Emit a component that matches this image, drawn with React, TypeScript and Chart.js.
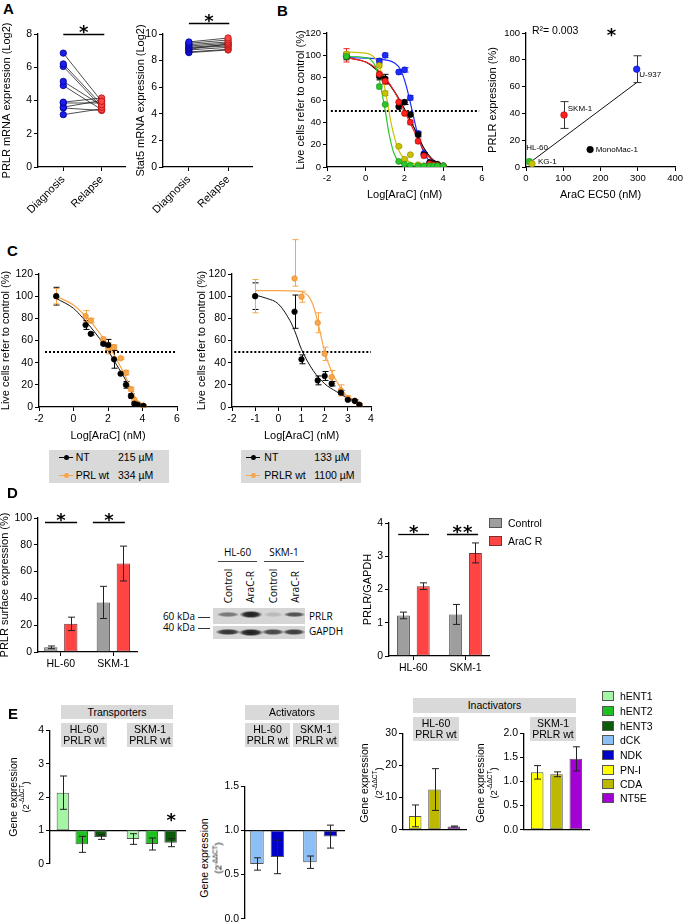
import React, { useEffect, useRef } from 'react';
import { Chart, registerables } from 'chart.js';

Chart.register(...registerables);

const FONT = "'Liberation Sans', Arial, Helvetica, sans-serif";
const BLOT_FONT = "'Open Sans', 'DejaVu Sans', sans-serif";
Chart.defaults.font.family = FONT;
Chart.defaults.color = '#000';

// ---------------- DATA ----------------
// Panel A
const aCategories = ['Diagnosis', 'Relapse'];
const prlrDiagnosis = [6.85, 6.2, 6.05, 5.15, 4.9, 3.9, 3.85, 3.6, 3.55, 3.15];
const prlrRelapse = [3.95, 3.75, 3.6, 3.7, 3.45, 4.15, 3.85, 4.0, 3.4, 3.5];
const stat5Diagnosis = [9.4, 9.3, 9.2, 9.1, 9.0, 8.95, 8.85, 8.8, 8.65, 8.6];
const stat5Relapse = [9.7, 9.55, 9.4, 9.3, 9.2, 9.1, 9.25, 9.0, 8.85, 8.8];

// Panel B (left) - dose response
const bDose = [-1, 0.7, 1.0, 1.7, 2.0, 2.3, 2.7, 3.0, 3.3, 3.5, 3.7, 4.0];
const bU937 = [100, 95, 100, 85, 87, 62, 30, 12, 4, 3, 2, 1];
const bU937Err = [2, 2, 2, 2, 2, 2, 2, 1, 1, 0, 0, 0];
const bMonoMac = [99, 81, 79, 54, 58, 47, 29, 11, 4, 3, 2.5, 1];
const bMonoMacErr = [3, 3, 4, 2, 2, 2, 2, 2, 1, 1, 1, 0];
const bSKM1 = [100, 83, 77, 58, 48, 40, 23, 10, 3, 2, 1.5, 1];
const bSKM1Err = [6, 2, 3, 2, 2, 2, 2, 1, 1, 0, 0, 0];
const bKG1 = [101, 91, 66, 18.5, 7, 11, 2, 1, 1, 1, 1, 1];
const bKG1Err = [2, 2, 2, 1, 1, 1, 0, 0, 0, 0, 0, 0];
const bHL60 = [99, 72, 56, 5, 2.5, 1.5, 1, 1, 1, 1, 1, 1];
const bHL60Err = [2, 2, 1, 1, 0, 0, 0, 0, 0, 0, 0, 0];
// fitted curves
const u937FitX = [-1, 0, 0.5, 1, 1.5, 1.8, 2.1, 2.4, 2.7, 3.0, 3.3, 3.6, 4.0];
const u937FitY = [98, 97.5, 97, 96, 93, 87, 72, 50, 28, 13, 5, 2, 1];
const monoFitX = [-1, 0, 0.5, 1, 1.5, 2, 2.5, 3, 3.5, 4];
const monoFitY = [98, 94, 88, 79, 67, 52, 35, 17, 6, 2];
const skmFitX = [-1, 0, 0.5, 1, 1.5, 2, 2.5, 3, 3.5, 4];
const skmFitY = [98, 94, 89, 80, 67, 50, 32, 15, 5, 1.5];
const kgFitX = [-1, 0, 0.5, 0.75, 1.0, 1.35, 1.7, 2.05, 2.5, 3, 4];
const kgFitY = [103, 102, 97, 88, 69, 36, 15, 6.5, 3, 1.5, 1];
const hlFitX = [-1, 0, 0.5, 0.75, 1.0, 1.2, 1.45, 1.7, 2.0, 2.5, 3, 4];
const hlFitY = [99, 98, 90, 74, 51, 30, 12.5, 5, 2, 1, 0.5, 0.5];

// Panel B (right) - EC50 vs PRLR
const cellLines = ['U-937', 'SKM-1', 'MonoMac-1', 'HL-60', 'KG-1'];
const ec50 = [297, 102, 172, 9, 16];
const prlrExpr = [73, 38.8, 13, 4, 2.4];
const prlrExprErr = [10, 10, 0, 0, 0];
const fitEc50 = [9, 297];
const fitPrlr = [3, 63];

// Panel C (left)
const cDoseL = [-1, 0.7, 1.0, 1.73, 2.02, 2.35, 2.73, 3.04, 3.33, 3.53, 3.72, 4.05];
const ntLeft = [100, 74, 66, 57, 56, 43, 30, 20, 10, 3, 2, 1];
const ntLeftErr = [8, 4, 1, 1, 5, 8, 1, 3, 2, 1, 1, 1];
const prlLeft = [100, 82, 78, 61, 53, 54, 44, 31, 16, 6, 3, 1];
const prlLeftErr = [7, 5, 2, 2, 5, 2, 1, 2, 2, 2, 1, 1];
const ntLeftFitX = [-1, 0, 0.5, 1, 1.5, 2, 2.5, 3, 3.5, 3.8, 4.05];
const ntLeftFitY = [98, 89, 81, 72, 62, 51, 38, 25, 9, 2, 0];
const prlLeftFitX = [-1, 0, 0.5, 1, 1.5, 2, 2.5, 3, 3.5, 3.8, 4.05];
const prlLeftFitY = [100, 92, 85, 77, 67, 56, 43, 28, 11, 3, 0.5];

// Panel C (right)
const cDoseR = [-1, 0.7, 1.0, 1.7, 2.0, 2.3, 2.7, 3.0, 3.3, 3.5];
const ntRight = [100, 86, 43, 24, 28, 21, 13, 6.5, 5.5, 2];
const ntRightErr = [12, 15, 4, 4, 4, 2, 2, 1, 1, 1];
const prlrRight = [100, 116, 99.5, 76, 48, 27, 15, 8, 5.5, 2];
const prlrRightErr = [15, [7, 35], 5, 9, 6, 6, 5, 2, 1, 1];
const ntRightFitX = [-1, -0.5, 0, 0.5, 0.7, 1.0, 1.5, 2.0, 2.5, 3.0, 3.5];
const ntRightFitY = [101, 98, 93, 78, 69, 52, 33, 21, 14, 8, 3];
const prlrRightFitX = [-1, 0, 0.5, 1.0, 1.3, 1.5, 1.7, 2.0, 2.3, 2.7, 3.0, 3.5];
const prlrRightFitY = [105, 105, 104.8, 104, 100, 92, 77, 50, 32, 17, 9, 3];

// Panel D
const dCategories = ['HL-60', 'SKM-1'];
const surfaceControl = [3.5, 37];
const surfaceControlErr = [1, 12];
const surfaceAraC = [21, 66];
const surfaceAraCErr = [5, 13];
const ratioControl = [1.22, 1.25];
const ratioControlErr = [0.1, 0.3];
const ratioAraC = [2.1, 3.1];
const ratioAraCErr = [0.1, 0.3];

// Panel E
const hENT1 = [2.13, 0.74];
const hENT1Err = [0.5, 0.16];
const hENT2 = [0.58, 0.59];
const hENT2Err = [0.24, 0.18];
const hENT3 = [0.8, 0.63];
const hENT3Err = [0.07, 0.12];
const dCK = [0.62, 0.64];
const dCKErr = [0.07, 0.07];
const NDK = [0.7, 0.93];
const NDKErr = [0.19, 0.13];
const inactivators = ['PN-I', 'CDA', 'NT5E'];
const hl60Inact = [4.3, 12.5, 1.0];
const hl60InactErr = [3.4, 6.5, 0.15];
const skm1Inact = [1.19, 1.15, 1.47];
const skm1InactErr = [0.14, 0.05, 0.25];
const legendNames = ['hENT1', 'hENT2', 'hENT3', 'dCK', 'NDK', 'PN-I', 'CDA', 'NT5E'];
const legendColors = ['#a6f5a6', '#1fc01f', '#0a5c0a', '#8cbff5', '#0000c8', '#ffff00', '#bdb800', '#a300d6'];

// colors
const A_BLUE = '#1c1cf0', A_BLUE_BD = '#000090', A_RED = '#ff4545', A_RED_BD = '#b01010';
const C_BLUE = '#1f2bff', C_RED = '#ff2020', C_BLACK = '#000000', C_YELLOW = '#c8c200', C_GREEN = '#2cc52c';
const ORANGE = '#f9a54a';
const D_GRAY = '#9e9e9e', D_RED = '#ff4444';

// ---------------- helpers ----------------
type Box = { left: number; top: number; width: number; height: number };

function frame(x0: number, y0: number, x1: number, y1: number, l: number, t: number, r: number, b: number, padBottom = false) {
  return {
    box: { left: x0 - l, top: y0 - t, width: x1 - x0 + l + r, height: y1 - y0 + t + b },
    pad: { top: t, right: r, left: 0, bottom: padBottom ? b : 0 },
  };
}

function yScale(min: number, max: number, step: number, width: number, title?: string, fs = 10.5, fmt?: (v: number) => string) {
  const ticks: any = { stepSize: step, font: { family: FONT, size: fs }, color: '#000', padding: 2 };
  if (fmt) ticks.callback = (v: any) => fmt(Number(v));
  return {
    type: 'linear', min, max, position: 'left',
    ticks,
    grid: { drawOnChartArea: false, drawTicks: true, tickLength: 4, color: '#000', lineWidth: 1 },
    border: { display: true, color: '#000', width: 1.3 },
    title: title
      ? { display: true, text: title, font: { family: FONT, size: 11 }, color: '#000', padding: { top: 0, bottom: 0 } }
      : { display: false },
    afterFit: (s: any) => { s.width = width; },
  };
}

function xScale(min: number, max: number, tickVals: number[], height: number, o: any = {}) {
  return {
    type: 'linear', min, max, offset: false, position: o.position ?? 'bottom',
    afterBuildTicks: (s: any) => { s.ticks = tickVals.map((v) => ({ value: v })); },
    ticks: {
      autoSkip: false, display: !o.hideLabels,
      minRotation: o.rot ?? 0, maxRotation: o.rot ?? 0,
      font: { family: FONT, size: o.fs ?? 10.5 }, color: '#000', padding: 2,
      callback: (v: any) => (o.labels ? o.labels[tickVals.indexOf(Number(v))] : String(v)),
    },
    grid: { drawOnChartArea: false, drawTicks: o.drawTicks ?? true, tickLength: 4, color: '#000', lineWidth: 1, offset: false },
    border: { display: true, color: '#000', width: 1.3 },
    title: o.title
      ? { display: true, text: o.title, font: { family: FONT, size: 11 }, color: '#000', padding: { top: 0, bottom: 0 } }
      : { display: false },
    afterFit: o.position && typeof o.position === 'object' ? undefined : (s: any) => { s.height = height; },
  };
}

function common(pad: any) {
  return {
    responsive: false, animation: false, events: [],
    layout: { padding: pad },
    plugins: { legend: { display: false }, tooltip: { enabled: false } },
  };
}

function drawErrors(chart: any, onTop: boolean) {
  const ctx = chart.ctx;
  const ys = chart.scales.y;
  chart.data.datasets.forEach((ds: any, i: number) => {
    if (!ds.errors || !!ds.errorsOnTop !== onTop) return;
    const meta = chart.getDatasetMeta(i);
    ctx.save();
    ctx.strokeStyle = ds.errorColor || '#000';
    ctx.lineWidth = ds.errorWidth || 1;
    meta.data.forEach((el: any, j: number) => {
      const e = ds.errors[j];
      if (e == null) return;
      const lo = Array.isArray(e) ? e[0] : e;
      const hi = Array.isArray(e) ? e[1] : e;
      if (!lo && !hi) return;
      const raw = ds.data[j];
      let v = typeof raw === 'number' ? raw : raw.y;
      if (Array.isArray(v)) v = v[1];
      const x = Math.round(el.x) + 0.5;
      const cap = ds.errorCap ?? 3;
      const yLo = ys.getPixelForValue(v - lo);
      const yHi = ys.getPixelForValue(v + hi);
      ctx.beginPath();
      ctx.moveTo(x, yLo);
      ctx.lineTo(x, yHi);
      if (lo) { ctx.moveTo(x - cap, yLo); ctx.lineTo(x + cap, yLo); }
      if (hi) { ctx.moveTo(x - cap, yHi); ctx.lineTo(x + cap, yHi); }
      ctx.stroke();
    });
    ctx.restore();
  });
}

const STAR = 18;
function drawStars(ctx: any, cx: number, cy: number, n: number) {
  ctx.save();
  ctx.fillStyle = '#000';
  ctx.font = `bold ${STAR}px 'DejaVu Sans'`;
  ctx.textAlign = 'center';
  ctx.textBaseline = 'alphabetic';
  const gap = 10.5;
  for (let k = 0; k < n; k++) {
    const x = cx + (k - (n - 1) / 2) * gap;
    ctx.fillText('*', x, cy + STAR * 0.56);
  }
  ctx.restore();
}

type Extras = {
  hlines?: { y: number; x1: number; x2: number }[];
  sig?: { x1: number; x2: number; y: number; n: number }[];
  stars?: { x: number; y: number; n: number }[];
  texts?: { x: number; y: number; text: string; size?: number; align?: string }[];
};

function makeExtras(ex: Extras) {
  return {
    id: 'extras',
    beforeDatasetsDraw(chart: any) {
      const { ctx } = chart;
      const xs = chart.scales.x, ys = chart.scales.y;
      (ex.hlines || []).forEach((h) => {
        ctx.save();
        ctx.beginPath();
        ctx.setLineDash([2, 2]);
        ctx.lineWidth = 2;
        ctx.strokeStyle = '#000';
        const py = Math.round(ys.getPixelForValue(h.y));
        ctx.moveTo(xs.getPixelForValue(h.x1), py);
        ctx.lineTo(xs.getPixelForValue(h.x2), py);
        ctx.stroke();
        ctx.restore();
      });
      drawErrors(chart, false);
    },
    afterDatasetsDraw(chart: any) {
      const { ctx } = chart;
      const xs = chart.scales.x, ys = chart.scales.y;
      drawErrors(chart, true);
      (ex.sig || []).forEach((s) => {
        const px1 = xs.getPixelForValue(s.x1), px2 = xs.getPixelForValue(s.x2);
        const py = Math.round(ys.getPixelForValue(s.y)) + 0.5;
        ctx.save();
        ctx.beginPath();
        ctx.strokeStyle = '#000';
        ctx.lineWidth = 1.3;
        ctx.moveTo(px1, py);
        ctx.lineTo(px2, py);
        ctx.stroke();
        ctx.restore();
        drawStars(ctx, (px1 + px2) / 2, py - 6.5, s.n);
      });
      (ex.stars || []).forEach((s) => drawStars(ctx, xs.getPixelForValue(s.x), ys.getPixelForValue(s.y), s.n));
      (ex.texts || []).forEach((t) => {
        ctx.save();
        ctx.fillStyle = '#000';
        ctx.font = `${t.size ?? 8}px ${FONT}`;
        ctx.textAlign = (t.align as any) || 'left';
        ctx.textBaseline = 'middle';
        ctx.fillText(t.text, xs.getPixelForValue(t.x), ys.getPixelForValue(t.y));
        ctx.restore();
      });
    },
  };
}

function pts(xs: number[], ys: number[], errs: any[] | null, color: string, border: string, r = 3) {
  return {
    data: xs.map((x, i) => ({ x, y: ys[i] })),
    showLine: false,
    pointRadius: r,
    pointBackgroundColor: color,
    pointBorderColor: border,
    pointBorderWidth: 0.6,
    borderColor: color,
    errors: errs,
    errorColor: color,
    errorCap: 3,
  };
}

function curve(xs: number[], ys: number[], color: string, w = 1.2) {
  return {
    data: xs.map((x, i) => ({ x, y: ys[i] })),
    pointRadius: 0,
    borderColor: color,
    borderWidth: w,
    cubicInterpolationMode: 'monotone',
    fill: false,
  };
}

function bars(vals: number[], errs: number[], color: string, border: string, cp: number, bp: number, base?: number) {
  return {
    type: 'bar',
    data: vals.map((v, i) => ({ x: i, y: base != null ? [base, v] : v })),
    backgroundColor: color,
    borderColor: border,
    borderWidth: 1,
    borderSkipped: false,
    categoryPercentage: cp,
    barPercentage: bp,
    errors: errs,
    errorColor: '#222',
    errorCap: 3.5,
    errorsOnTop: true,
  };
}

// ---------------- chart specs ----------------
type Spec = { box: Box; make: () => any };

function pairedSpec(diag: number[], rel: number[], f: any, ymax: number, title: string, sigY: number, sigX2: number): Spec {
  return {
    box: f.box,
    make: () => ({
      type: 'line',
      data: {
        datasets: diag.map((d, i) => ({
          data: [{ x: 0, y: d }, { x: 1, y: rel[i] }],
          borderColor: '#222', borderWidth: 0.8,
          pointRadius: 3.2, pointBorderWidth: 0.8,
          pointBackgroundColor: [A_BLUE, A_RED],
          pointBorderColor: [A_BLUE_BD, A_RED_BD],
        })),
      },
      options: {
        ...common(f.pad),
        scales: {
          x: xScale(-0.66, 1.61, [0, 1], 55, { labels: aCategories, rot: 45, fs: 11 }),
          y: yScale(0, ymax, 2, f.box ? f.l : 0, title),
        },
      },
      plugins: [makeExtras({ sig: [{ x1: 0, x2: sigX2, y: sigY, n: 1 }] })],
    }),
  };
}

const fA1 = { ...frame(38, 34, 125, 167, 38, 14, 6, 55), l: 38 };
const fA2 = { ...frame(163, 34, 252, 167, 29, 29, 6, 55), l: 29 };
const fB1 = frame(327, 33, 482, 167, 33, 12, 10, 35);
const fB2 = frame(526, 33, 676, 167, 40, 12, 9, 35);
const fC1 = frame(39, 274, 177, 407, 40, 10, 10, 36);
const fC2 = frame(232, 274, 371, 407, 37, 40, 8, 36);
const fD1 = frame(38, 518, 137, 652, 40, 14, 6, 20);
const fD2 = frame(389, 523, 489, 656, 28, 14, 4, 22);
const fE1 = frame(50, 730, 185, 864, 20, 8, 4, 8, true);
const fE2 = frame(245, 786, 344, 920, 23, 8, 4, 7, true);
const fE3 = frame(403, 733, 466, 831, 20, 8, 4, 7);
const fE4 = frame(524, 733, 589, 831, 22, 8, 4, 7);

const specs: Spec[] = [
  pairedSpec(prlrDiagnosis, prlrRelapse, fA1, 8, 'PRLR mRNA expression (Log2)', 8, 1.07),
  pairedSpec(stat5Diagnosis, stat5Relapse, fA2, 10, 'Stat5 mRNA expression (Log2)', 10.85, 1.03),
  {
    box: fB1.box,
    make: () => ({
      type: 'line',
      data: {
        datasets: [
          pts(bDose, bHL60, bHL60Err, C_GREEN, '#178a17'),
          pts(bDose, bKG1, bKG1Err, C_YELLOW, '#8d8800'),
          pts(bDose, bSKM1, bSKM1Err, C_RED, '#a00000'),
          pts(bDose, bMonoMac, bMonoMacErr, C_BLACK, '#000'),
          pts(bDose, bU937, bU937Err, C_BLUE, '#0010a0'),
          curve(hlFitX, hlFitY, C_GREEN),
          curve(kgFitX, kgFitY, C_YELLOW),
          curve(skmFitX, skmFitY, C_RED),
          curve(monoFitX, monoFitY, C_BLACK),
          curve(u937FitX, u937FitY, C_BLUE),
        ],
      },
      options: {
        ...common(fB1.pad),
        scales: {
          x: xScale(-2, 6, [-2, 0, 2, 4, 6], 35, { title: 'Log[AraC] (nM)', fs: 9.5 }),
          y: yScale(0, 120, 20, 33, 'Live cells refer to control (%)', 9.5),
        },
      },
      plugins: [makeExtras({ hlines: [{ y: 50, x1: -1.8, x2: 5.85 }] })],
    }),
  },
  {
    box: fB2.box,
    make: () => ({
      type: 'line',
      data: {
        datasets: [
          {
            data: ec50.map((x, i) => ({ x, y: prlrExpr[i] })),
            showLine: false, pointRadius: 3.3, pointBorderWidth: 0.6,
            pointBackgroundColor: [C_BLUE, C_RED, C_BLACK, C_GREEN, C_YELLOW],
            pointBorderColor: ['#0010a0', '#a00000', '#000', '#178a17', '#8d8800'],
            errors: prlrExprErr, errorColor: '#333', errorCap: 4,
          },
          {
            data: fitEc50.map((x, i) => ({ x, y: fitPrlr[i] })),
            pointRadius: 0, borderColor: '#111', borderWidth: 1,
          },
        ],
      },
      options: {
        ...common(fB2.pad),
        scales: {
          x: xScale(0, 400, [0, 100, 200, 300, 400], 35, { title: 'AraC EC50 (nM)', fs: 9.5 }),
          y: yScale(0, 100, 20, 40, 'PRLR expression (%)', 9.5),
        },
      },
      plugins: [makeExtras({
        stars: [{ x: 229.5, y: 101.7, n: 1 }],
        texts: [
          { x: 16, y: 101.5, text: 'R²= 0.003', size: 10.5 },
          { x: 304, y: 68.9, text: cellLines[0] },
          { x: 112, y: 43.5, text: cellLines[1] },
          { x: 187, y: 13, text: cellLines[2] },
          { x: 0.5, y: 14.4, text: cellLines[3] },
          { x: 32, y: 4, text: cellLines[4] },
        ],
      })],
    }),
  },
  {
    box: fC1.box,
    make: () => ({
      type: 'line',
      data: {
        datasets: [
          pts(cDoseL, ntLeft, ntLeftErr, C_BLACK, '#000', 2.8),
          pts(cDoseL, prlLeft, prlLeftErr, ORANGE, '#e08a2a', 2.8),
          curve(ntLeftFitX, ntLeftFitY, '#111', 1),
          curve(prlLeftFitX, prlLeftFitY, ORANGE, 1.2),
        ],
      },
      options: {
        ...common(fC1.pad),
        scales: {
          x: xScale(-2, 6, [-2, 0, 2, 4, 6], 36, { title: 'Log[AraC] (nM)' }),
          y: yScale(0, 120, 20, 40, 'Live cells refer to control (%)'),
        },
      },
      plugins: [makeExtras({ hlines: [{ y: 50, x1: -1.65, x2: 6 }] })],
    }),
  },
  {
    box: fC2.box,
    make: () => ({
      type: 'line',
      data: {
        datasets: [
          pts(cDoseR, ntRight, ntRightErr, C_BLACK, '#000', 2.8),
          pts(cDoseR, prlrRight, prlrRightErr, ORANGE, '#e08a2a', 2.8),
          curve(ntRightFitX, ntRightFitY, '#111', 1),
          curve(prlrRightFitX, prlrRightFitY, ORANGE, 1.2),
        ],
      },
      options: {
        ...common(fC2.pad),
        scales: {
          x: xScale(-2, 4, [-2, -1, 0, 1, 2, 3, 4], 36, { title: 'Log[AraC] (nM)' }),
          y: yScale(0, 120, 20, 37, 'Live cells refer to control (%)'),
        },
      },
      plugins: [makeExtras({ hlines: [{ y: 50, x1: -1.9, x2: 4 }] })],
    }),
  },
  {
    box: fD1.box,
    make: () => ({
      type: 'bar',
      data: {
        datasets: [
          bars(surfaceControl, surfaceControlErr, D_GRAY, '#555', 0.762, 0.665),
          bars(surfaceAraC, surfaceAraCErr, D_RED, '#7a3030', 0.762, 0.665),
        ],
      },
      options: {
        ...common(fD1.pad),
        scales: {
          x: xScale(-0.434, 1.451, [0, 1], 20, { labels: dCategories }),
          y: yScale(0, 100, 20, 40, 'PRLR surface expression (%)'),
        },
      },
      plugins: [makeExtras({ sig: [{ x1: -0.3, x2: 0.31, y: 97, n: 1 }, { x1: 0.61, x2: 1.22, y: 97, n: 1 }] })],
    }),
  },
  {
    box: fD2.box,
    make: () => ({
      type: 'bar',
      data: {
        datasets: [
          bars(ratioControl, ratioControlErr, D_GRAY, '#555', 0.757, 0.658),
          bars(ratioAraC, ratioAraCErr, D_RED, '#7a3030', 0.757, 0.658),
        ],
      },
      options: {
        ...common(fD2.pad),
        scales: {
          x: xScale(-0.466, 1.45, [0, 1], 22, { labels: dCategories }),
          y: yScale(0, 4, 1, 28, 'PRLR/GAPDH'),
        },
      },
      plugins: [makeExtras({ sig: [{ x1: -0.29, x2: 0.3, y: 3.67, n: 1 }, { x1: 0.645, x2: 1.24, y: 3.67, n: 2 }] })],
    }),
  },
  {
    box: fE1.box,
    make: () => ({
      type: 'bar',
      data: {
        datasets: [
          bars(hENT1, hENT1Err, legendColors[0], '#555', 0.806, 0.665, 1),
          bars(hENT2, hENT2Err, legendColors[1], '#555', 0.806, 0.665, 1),
          bars(hENT3, hENT3Err, legendColors[2], '#555', 0.806, 0.665, 1),
        ],
      },
      options: {
        ...common(fE1.pad),
        scales: {
          x: xScale(-0.453, 1.474, [0, 1], 0, { position: { y: 1 }, hideLabels: true, drawTicks: false }),
          y: yScale(0, 4, 1, 20),
        },
      },
      plugins: [makeExtras({ stars: [{ x: 1.276, y: 1.43, n: 1 }] })],
    }),
  },
  {
    box: fE2.box,
    make: () => ({
      type: 'bar',
      data: {
        datasets: [
          bars(dCK, dCKErr, legendColors[3], '#555', 0.774, 0.66, 1),
          bars(NDK, NDKErr, legendColors[4], '#555', 0.774, 0.66, 1),
        ],
      },
      options: {
        ...common(fE2.pad),
        scales: {
          x: xScale(-0.419, 1.449, [0, 1], 0, { position: { y: 1 }, hideLabels: true, drawTicks: false }),
          y: yScale(0, 1.5, 0.5, 23, undefined, 10.5, (v) => v.toFixed(1)),
        },
      },
      plugins: [makeExtras({})],
    }),
  },
  {
    box: fE3.box,
    make: () => ({
      type: 'bar',
      data: {
        datasets: inactivators.map((_, k) => bars([hl60Inact[k]], [hl60InactErr[k]], legendColors[5 + k], '#555', 0.92, 0.65)),
      },
      options: {
        ...common(fE3.pad),
        scales: {
          x: xScale(-1, 1, [0], 7, { hideLabels: true, drawTicks: false }),
          y: yScale(0, 30, 10, 20),
        },
      },
      plugins: [makeExtras({})],
    }),
  },
  {
    box: fE4.box,
    make: () => ({
      type: 'bar',
      data: {
        datasets: inactivators.map((_, k) => bars([skm1Inact[k]], [skm1InactErr[k]], legendColors[5 + k], '#555', 0.89, 0.65)),
      },
      options: {
        ...common(fE4.pad),
        scales: {
          x: xScale(-1, 1, [0], 7, { hideLabels: true, drawTicks: false }),
          y: yScale(0, 2, 0.5, 22, undefined, 10.5, (v) => v.toFixed(1)),
        },
      },
      plugins: [makeExtras({})],
    }),
  },
];

// ---------------- components ----------------
function ChartCanvas({ spec }: { spec: Spec }) {
  const ref = useRef<HTMLCanvasElement | null>(null);
  useEffect(() => {
    if (!ref.current) return;
    const chart = new Chart(ref.current, spec.make());
    return () => chart.destroy();
  }, [spec]);
  const b = spec.box;
  return (
    <canvas
      ref={ref}
      width={b.width}
      height={b.height}
      style={{ position: 'absolute', left: b.left, top: b.top, width: b.width, height: b.height }}
    />
  );
}

function T({ x, y, children, size = 10.5, align = 'left', bold = false, family = FONT }: any) {
  const tx = align === 'center' ? '-50%' : align === 'right' ? '-100%' : '0';
  return (
    <div style={{ position: 'absolute', left: x, top: y, transform: `translate(${tx}, -50%)`, fontSize: size, fontFamily: family, fontWeight: bold ? 700 : 400, whiteSpace: 'nowrap', lineHeight: 1.15, color: '#000' }}>
      {children}
    </div>
  );
}

function VT({ x, y, children, size = 10.5, family = FONT }: any) {
  return (
    <div style={{ position: 'absolute', left: x, top: y, transform: 'translate(-50%, -50%) rotate(-90deg)', fontSize: size, fontFamily: family, whiteSpace: 'nowrap', lineHeight: 1.15 }}>
      {children}
    </div>
  );
}

function Letter({ x, y, c }: any) {
  return <div style={{ position: 'absolute', left: x, top: y, fontSize: 15, fontWeight: 700, fontFamily: FONT, lineHeight: 1 }}>{c}</div>;
}

function GBox({ x, y, w, h, lines }: any) {
  return (
    <div style={{ position: 'absolute', left: x, top: y, width: w, height: h, background: '#d9d9d9', display: 'flex', flexDirection: 'column', alignItems: 'center', justifyContent: 'center', fontSize: 10.5, fontFamily: FONT, lineHeight: '11px', whiteSpace: 'nowrap' }}>
      {lines.map((l: string, i: number) => <div key={i}>{l}</div>)}
    </div>
  );
}

function Marker({ x, y, color }: any) {
  return (
    <>
      <div style={{ position: 'absolute', left: x, top: y - 0.5, width: 14, height: 1, background: color }} />
      <div style={{ position: 'absolute', left: x + 5, top: y - 2.5, width: 5, height: 5, borderRadius: 3, background: color }} />
    </>
  );
}

function GeneTitle({ x1, x2, y }: any) {
  return (
    <>
      <VT x={x1} y={y} size={10.5}>Gene expression</VT>
      <VT x={x2} y={y} size={9.5}>(2<span style={{ fontSize: 6.5, verticalAlign: 'super' }}>-ΔΔCT</span>)</VT>
    </>
  );
}

function Band({ x, y, w, h, o }: any) {
  return (
    <div style={{ position: 'absolute', left: x, top: y, width: w, height: h, opacity: o, background: 'radial-gradient(ellipse at center, #111 0%, #2a2a2a 45%, rgba(60,60,60,0) 75%)' }} />
  );
}

export default function App() {
  return (
    <div style={{ position: 'absolute', left: 0, top: 0, width: 685, height: 924, overflow: 'hidden', background: '#fff', fontFamily: FONT, color: '#000' }}>
      {specs.map((s, i) => <ChartCanvas key={i} spec={s} />)}

      <Letter x={3} y={1} c="A" />
      <Letter x={277} y={3} c="B" />
      <Letter x={7} y={243} c="C" />
      <Letter x={7} y={485} c="D" />
      <Letter x={8} y={706} c="E" />

      {/* C legends */}
      <div style={{ position: 'absolute', left: 49, top: 450, width: 120, height: 33, background: '#d9d9d9' }} />
      <Marker x={59} y={457} color="#000" />
      <T x={75.7} y={457}>NT</T>
      <T x={118} y={457}>215 µM</T>
      <Marker x={59} y={475} color={ORANGE} />
      <T x={75.7} y={475}>PRL wt</T>
      <T x={118} y={475}>334 µM</T>

      <div style={{ position: 'absolute', left: 241, top: 450, width: 120, height: 33, background: '#d9d9d9' }} />
      <Marker x={246} y={457} color="#000" />
      <T x={264.3} y={457}>NT</T>
      <T x={314.3} y={457}>133 µM</T>
      <Marker x={246} y={475} color={ORANGE} />
      <T x={264.3} y={475}>PRLR wt</T>
      <T x={314.3} y={475}>1100 µM</T>

      {/* Western blot */}
      <T x={237.5} y={553} align="center" size={10} family={BLOT_FONT}>HL-60</T>
      <div style={{ position: 'absolute', left: 218, top: 561, width: 39, height: 1, background: '#444' }} />
      <T x={284} y={553} align="center" size={10} family={BLOT_FONT}>SKM-1</T>
      <div style={{ position: 'absolute', left: 264, top: 561, width: 40, height: 1, background: '#444' }} />
      <VT x={228.7} y={585.5} size={10} family={BLOT_FONT}>Control</VT>
      <VT x={251} y={587} size={10} family={BLOT_FONT}>AraC-R</VT>
      <VT x={274} y={585.5} size={10} family={BLOT_FONT}>Control</VT>
      <VT x={295.7} y={587} size={10} family={BLOT_FONT}>AraC-R</VT>
      <div style={{ position: 'absolute', left: 213, top: 608, width: 92, height: 16, background: '#d6d6d6' }} />
      <div style={{ position: 'absolute', left: 213, top: 626, width: 92, height: 13, background: '#d6d6d6' }} />
      <Band x={217} y={612} w={22} h={5} o={0.5} />
      <Band x={240} y={611} w={22} h={7} o={0.95} />
      <Band x={264} y={612} w={19} h={5} o={0.15} />
      <Band x={284} y={612} w={21} h={5} o={0.7} />
      <Band x={216} y={629} w={24} h={6} o={0.85} />
      <Band x={239} y={629} w={24} h={7} o={0.95} />
      <Band x={262} y={629} w={22} h={6} o={0.75} />
      <Band x={283} y={629} w={22} h={6} o={0.8} />
      <T x={195} y={617} align="right" size={10} family={BLOT_FONT}>60 kDa</T>
      <div style={{ position: 'absolute', left: 198, top: 617, width: 12, height: 1, background: '#333' }} />
      <T x={195} y={628} align="right" size={10} family={BLOT_FONT}>40 kDa</T>
      <div style={{ position: 'absolute', left: 198, top: 628, width: 12, height: 1, background: '#333' }} />
      <T x={309} y={617} size={10} family={BLOT_FONT}>PRLR</T>
      <T x={309} y={632} size={10} family={BLOT_FONT}>GAPDH</T>

      {/* D right legend */}
      <div style={{ position: 'absolute', left: 489, top: 518, width: 11, height: 8, background: D_GRAY, border: '1px solid #555' }} />
      <T x={508} y={522.5}>Control</T>
      <div style={{ position: 'absolute', left: 489, top: 536, width: 11, height: 8, background: D_RED, border: '1px solid #7a3030' }} />
      <T x={508} y={540.5}>AraC R</T>

      {/* E headers */}
      <GBox x={61} y={705} w={112} h={14} lines={['Transporters']} />
      <GBox x={61} y={723} w={46} h={24} lines={['HL-60', 'PRLR wt']} />
      <GBox x={127} y={723} w={46} h={24} lines={['SKM-1', 'PRLR wt']} />
      <GBox x={245} y={705} w={94} h={15} lines={['Activators']} />
      <GBox x={245} y={723} w={45} h={24} lines={['HL-60', 'PRLR wt']} />
      <GBox x={293} y={723} w={46} h={24} lines={['SKM-1', 'PRLR wt']} />
      <GBox x={413} y={698} w={163} h={15} lines={['Inactivators']} />
      <GBox x={413} y={717} w={46} h={24} lines={['HL-60', 'PRLR wt']} />
      <GBox x={530} y={717} w={46} h={24} lines={['SKM-1', 'PRLR wt']} />

      <GeneTitle x1={12.5} x2={25} y={797} />
      <GeneTitle x1={204} x2={218} y={858} />
      <GeneTitle x1={364} x2={377.5} y={783} />
      <GeneTitle x1={479.5} x2={493} y={783} />

      {/* E legend */}
      {legendNames.map((n, i) => {
        const cy = [696, 711, 726, 740, 755, 770, 784, 798][i];
        return (
          <React.Fragment key={n}>
            <div style={{ position: 'absolute', left: 602, top: cy - 5, width: 10, height: 8, background: legendColors[i], border: '1px solid #555' }} />
            <T x={620} y={cy}>{n}</T>
          </React.Fragment>
        );
      })}
    </div>
  );
}
